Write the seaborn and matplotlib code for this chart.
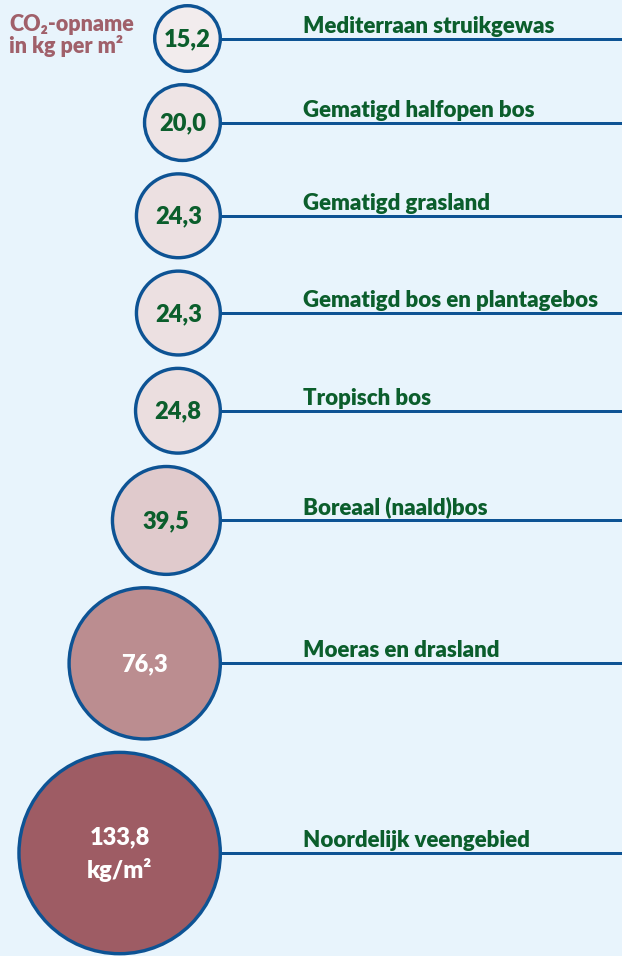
import numpy as np
import pandas as pd
import matplotlib
matplotlib.use("Agg")
import matplotlib.pyplot as plt
import seaborn as sns

# ---- data ----
categories = [
    "Mediterraan struikgewas",
    "Gematigd halfopen bos",
    "Gematigd grasland",
    "Gematigd bos en plantagebos",
    "Tropisch bos",
    "Boreaal (naald)bos",
    "Moeras en drasland",
    "Noordelijk veengebied",
]
values = [15.2, 20.0, 24.3, 24.3, 24.8, 39.5, 76.3, 133.8]
value_labels = ["15,2", "20,0", "24,3", "24,3", "24,8", "39,5", "76,3", "133,8\nkg/m²"]
title_lines = ["CO₂-opname", "in kg per m²"]

# ---- styles ----
fill_colors = ["#f2eced", "#eee4e5", "#ece0e1", "#ece0e1", "#ebdedf", "#e0cacc", "#bb8d90", "#9e5c64"]
value_text_colors = ["#0b5e2c"] * 6 + ["white"] * 2
BG = "#e8f4fc"
BLUE = "#0d5394"
GREEN = "#0b5e2c"
MAUVE = "#a0606a"

sns.set_theme(style="white")
plt.rcParams["font.family"] = ["Lato", "DejaVu Sans"]

W, H, DPI = 622, 956, 100
fig = plt.figure(figsize=(W / DPI, H / DPI), dpi=DPI)
fig.patch.set_facecolor(BG)
ax = fig.add_axes([0, 0, 1, 1])
ax.set_facecolor(BG)

# ---- layout derived from values (circle area ~ value) ----
PX_PER_SQRT = 8.85          # outer radius in px per sqrt(value)
EDGE_PX = 3.4
RIGHT_EDGE = 222
GAP = 10
vals = np.array(values)
r_out = PX_PER_SQRT * np.sqrt(vals)
r_path = r_out - EDGE_PX / 2
cx = RIGHT_EDGE - r_out
cy = np.zeros(len(vals))
y = 4.0
for i, r in enumerate(r_out):
    cy[i] = y + r
    y = cy[i] + r + GAP
px2pt = 72 / DPI
sizes = (2 * r_path * px2pt) ** 2

df = pd.DataFrame({"category": categories, "value": values, "x": cx, "y": cy, "s": sizes})

# connector lines
ax.hlines(df["y"], df["x"] + r_out - 2, W, color=BLUE, lw=3.0 * px2pt, zorder=1)

sns.scatterplot(
    data=df, x="x", y="y", hue="category", palette=fill_colors,
    s=df["s"].values, edgecolor=BLUE, linewidth=EDGE_PX * px2pt,
    legend=False, ax=ax, zorder=3,
)
ax.set_xlim(0, W)
ax.set_ylim(H, 0)
ax.axis("off")

FS = 16
FS_VAL = 17
WEIGHT = "heavy"
for i, row in df.iterrows():
    ax.text(row["x"], row["y"] + 1, value_labels[i], ha="center", va="center",
            fontsize=FS_VAL, fontweight=WEIGHT, color=value_text_colors[i],
            linespacing=1.5, zorder=4)
    ax.text(303, row["y"] - 6, row["category"], ha="left", va="baseline",
            fontsize=FS, fontweight=WEIGHT, color=GREEN, zorder=4)

ax.text(9, 31, title_lines[0], ha="left", va="baseline", fontsize=15.5,
        fontweight=WEIGHT, color=MAUVE, zorder=4)
ax.text(9, 53, title_lines[1], ha="left", va="baseline", fontsize=15.5,
        fontweight=WEIGHT, color=MAUVE, zorder=4)

fig.savefig("out.png", dpi=DPI, facecolor=BG)
